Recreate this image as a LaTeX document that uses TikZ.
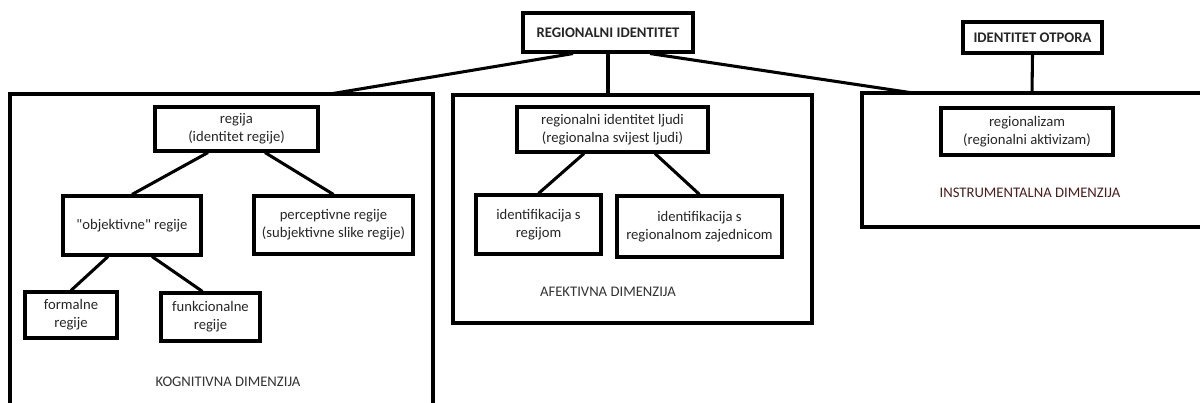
\documentclass[tikz,border=0pt]{standalone}
\usepackage{fontspec}
\setmainfont{Carlito}[Ligatures=TeXOff]
\usetikzlibrary{calc}
\definecolor{instrred}{RGB}{75,30,30}

\begin{document}
\begin{tikzpicture}[x=0.75pt,y=-0.75pt,line width=2.3pt,
		font=\fontsize{11}{13.5}\selectfont,
		wh/.style 2 args={minimum width=#1*0.75pt,minimum height=#2*0.75pt}]
		\tikzstyle{box}=[draw,rectangle,align=center,inner sep=0pt,text=black!85]
		\tikzstyle{dimlabel}=[text=black!80]
		\useasboundingbox (0,0) rectangle (1200,403);

		% frames of the three dimensions
		\draw (10,403) -- (10,94) -- (433,94) -- (433,403);
		\draw (453,95) rectangle (812,323);
		\draw (1200,93) -- (862,93) -- (862,227) -- (1200,227);
		\coordinate (kogtop) at (330,94);
		\coordinate (afetop) at (608,95);
		\coordinate (instop) at (913,93);
		\coordinate (otptop) at (1032,93);

		\node[box,wh={170}{39},font=\fontsize{11}{13.5}\selectfont\bfseries] (ri) at (608,32.5) {REGIONALNI IDENTITET};
		\node[box,wh={139}{31},font=\fontsize{11}{13.5}\selectfont\bfseries] (otp) at (1032.5,37.5) {IDENTITET OTPORA};

		\node[box,wh={163}{44}] (reg) at (236.5,129) {regija\\(identitet regije)};
		\node[box,wh={138}{59}] (obj) at (132,225.5) {"objektivne" regije};
		\node[box,wh={159}{58}] (per) at (333.5,225) {perceptivne regije\\(subjektivne slike regije)};
		\node[box,wh={92}{46}] (form) at (71,315) {formalne\\regije};
		\node[box,wh={99}{48}] (funk) at (210.5,317) {funkcionalne\\regije};
		\node[dimlabel] (kog) at (228,382) {KOGNITIVNA DIMENZIJA};

		\node[box,wh={191}{45}] (ljudi) at (612.5,129.5) {regionalni identitet ljudi\\(regionalna svijest ljudi)};
		\node[box,wh={125}{59}] (idreg) at (538.5,224.5) {identifikacija s\\regijom};
		\node[box,wh={165}{61}] (idzaj) at (699.5,226.5) {identifikacija s\\regionalnom zajednicom};
		\node[dimlabel] (afe) at (608,292) {AFEKTIVNA DIMENZIJA};

		\node[box,wh={172}{47}] (rlz) at (1027,131.5) {regionalizam\\(regionalni aktivizam)};
		\node[dimlabel,text=instrred] (ins) at (1030,193) {INSTRUMENTALNA DIMENZIJA};

		\path[draw]
		($(ri.south)+(-35,0)$) edge (kogtop)
		(ri.south) edge (afetop)
		($(ri.south)+(42,0)$) edge (instop)
		(otp.south) edge (otptop)
		($(reg.south)+(-28.5,0)$) edge (obj.north)
		($(reg.south)+(28.5,0)$) edge (per.north)
		($(obj.south)+(-24,0)$) edge (form.north)
		($(obj.south)+(20,0)$) edge ($(funk.north)+(-8,0)$)
		($(ljudi.south)+(-28.5,0)$) edge (idreg.north)
		($(ljudi.south)+(42.5,0)$) edge (idzaj.north);
	\end{tikzpicture}
\end{document}
